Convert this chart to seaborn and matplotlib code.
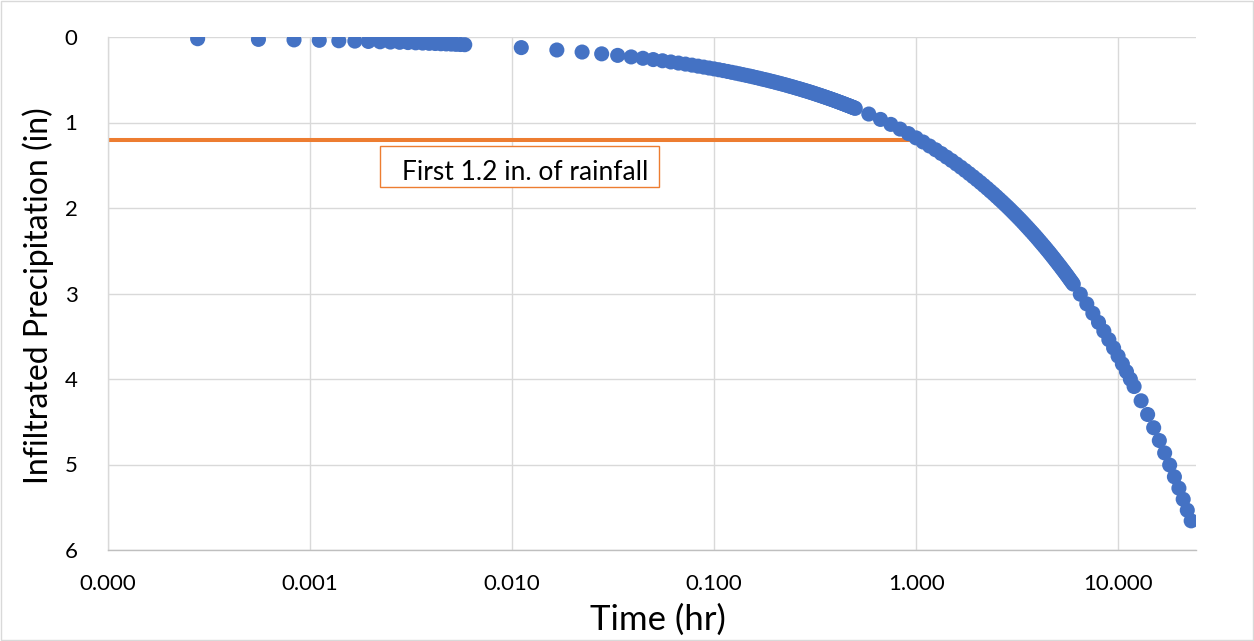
import numpy as np
import pandas as pd
import matplotlib
matplotlib.use("Agg")
import matplotlib.pyplot as plt
import seaborn as sns
from matplotlib.ticker import FixedLocator, FuncFormatter, NullLocator
from matplotlib.patches import Rectangle

# ---------------- data ----------------
# segment 1: 1-second steps
time_s_seg1 = [1, 2, 3, 4, 5, 6, 7, 8, 9, 10, 11, 12, 13, 14, 15, 16, 17, 18, 19, 20, 21]
infil_seg1 = [0.020, 0.028, 0.034, 0.039, 0.044, 0.048, 0.052, 0.056, 0.059, 0.062,
              0.065, 0.068, 0.071, 0.074, 0.076, 0.079, 0.081, 0.083, 0.086, 0.088, 0.090]

# segment 2: 20-second steps
time_s_seg2 = [40, 60, 80, 100, 120, 140, 160, 180, 200, 220, 240, 260, 280, 300, 320, 340,
               360, 380, 400, 420, 440, 460, 480, 500, 520, 540, 560, 580, 600, 620, 640, 660,
               680, 700, 720, 740, 760, 780, 800, 820, 840, 860, 880, 900, 920, 940, 960, 980,
               1000, 1020, 1040, 1060, 1080, 1100, 1120, 1140, 1160, 1180, 1200, 1220, 1240,
               1260, 1280, 1300, 1320, 1340, 1360, 1380, 1400, 1420, 1440, 1460, 1480, 1500,
               1520, 1540, 1560, 1580, 1600, 1620, 1640, 1660, 1680, 1700, 1720, 1740, 1760,
               1780, 1800]
infil_seg2 = [0.124, 0.152, 0.176, 0.197, 0.215, 0.233, 0.249, 0.264, 0.278, 0.292,
              0.305, 0.317, 0.329, 0.341, 0.352, 0.363, 0.373, 0.383, 0.393, 0.403,
              0.413, 0.422, 0.431, 0.440, 0.449, 0.457, 0.465, 0.474, 0.482, 0.490,
              0.498, 0.505, 0.513, 0.520, 0.528, 0.535, 0.542, 0.549, 0.556, 0.563,
              0.570, 0.577, 0.583, 0.590, 0.597, 0.603, 0.609, 0.616, 0.622, 0.628,
              0.634, 0.640, 0.646, 0.652, 0.658, 0.664, 0.670, 0.676, 0.681, 0.687,
              0.693, 0.698, 0.704, 0.709, 0.715, 0.720, 0.725, 0.731, 0.736, 0.741,
              0.746, 0.752, 0.757, 0.762, 0.767, 0.772, 0.777, 0.782, 0.787, 0.792,
              0.797, 0.801, 0.806, 0.811, 0.816, 0.820, 0.825, 0.830, 0.834]

# segment 3: 5-minute steps
time_min_seg3 = [35, 40, 45, 50, 55, 60, 65, 70, 75, 80, 85, 90, 95, 100, 105, 110, 115, 120,
                 125, 130, 135, 140, 145, 150, 155, 160, 165, 170, 175, 180, 185, 190, 195, 200,
                 205, 210, 215, 220, 225, 230, 235, 240, 245, 250, 255, 260, 265, 270, 275, 280,
                 285, 290, 295, 300, 305, 310, 315, 320, 325, 330, 335, 340, 345, 350, 355, 360]
infil_seg3 = [0.901, 0.964, 1.022, 1.077, 1.130, 1.180, 1.228, 1.275, 1.319, 1.363,
              1.405, 1.445, 1.485, 1.523, 1.561, 1.598, 1.634, 1.669, 1.703, 1.737,
              1.770, 1.803, 1.834, 1.866, 1.897, 1.927, 1.957, 1.986, 2.015, 2.044,
              2.072, 2.100, 2.127, 2.154, 2.181, 2.208, 2.234, 2.260, 2.285, 2.310,
              2.335, 2.360, 2.385, 2.409, 2.433, 2.456, 2.480, 2.503, 2.526, 2.549,
              2.572, 2.594, 2.617, 2.639, 2.661, 2.682, 2.704, 2.725, 2.746, 2.767,
              2.788, 2.809, 2.830, 2.850, 2.870, 2.890]

# segment 4: half-hour steps
time_hr_seg4 = [6.5, 7.0, 7.5, 8.0, 8.5, 9.0, 9.5, 10.0, 10.5, 11.0, 11.5, 12.0]
infil_seg4 = [3.008, 3.122, 3.232, 3.338, 3.440, 3.540, 3.637, 3.732, 3.824, 3.914, 4.002, 4.088]

# segment 5: 1-hour steps
time_hr_seg5 = [13, 14, 15, 16, 17, 18, 19, 20, 21, 22, 23]
infil_seg5 = [4.255, 4.415, 4.570, 4.720, 4.865, 5.006, 5.144, 5.277, 5.407, 5.535, 5.659]

# reference line: first 1.2 in. of rainfall
line_time_hr = [0.0001, 1.0]
line_infil = [1.2, 1.2]

x_ticks = [0.0001, 0.001, 0.01, 0.1, 1.0, 10.0]
y_ticks = [0, 1, 2, 3, 4, 5, 6]
annotation = "First 1.2 in. of rainfall"

# ---------------- build frame ----------------
time_hr = ([t / 3600 for t in time_s_seg1] + [t / 3600 for t in time_s_seg2]
           + [t / 60 for t in time_min_seg3] + list(time_hr_seg4) + list(time_hr_seg5))
infil = infil_seg1 + infil_seg2 + infil_seg3 + infil_seg4 + infil_seg5
df = pd.DataFrame({"Time (hr)": time_hr, "Infiltrated Precipitation (in)": infil})
line_df = pd.DataFrame({"t": line_time_hr, "f": line_infil})

# ---------------- style ----------------
sns.set_theme(style="white")
plt.rcParams["font.family"] = ["Lato", "DejaVu Sans"]

BLUE = "#4472C4"
ORANGE = "#ED7D31"
GRID = "#D9D9D9"

fig = plt.figure(figsize=(12.54, 6.41), dpi=100)
ax = fig.add_axes([108 / 1254, 1 - 550 / 641, (1196 - 108) / 1254, (550 - 37) / 641])

sns.lineplot(data=line_df, x="t", y="f", ax=ax, color=ORANGE, linewidth=2.9, zorder=2)
sns.scatterplot(data=df, x="Time (hr)", y="Infiltrated Precipitation (in)", ax=ax,
                color=BLUE, s=118, linewidth=0, edgecolor="none", zorder=3)

ax.set_xscale("log")
ax.set_xlim(0.0001, 24.3)
ax.set_ylim(6, 0)

ax.xaxis.set_major_locator(FixedLocator(x_ticks))
ax.xaxis.set_minor_locator(NullLocator())
ax.xaxis.set_major_formatter(FuncFormatter(lambda v, p: f"{v:.3f}"))
ax.yaxis.set_major_locator(FixedLocator(y_ticks))
ax.yaxis.set_major_formatter(FuncFormatter(lambda v, p: f"{int(round(v))}"))

ax.grid(True, which="major", color=GRID, linewidth=1.0, zorder=0)
ax.set_axisbelow(True)
for side in ["top", "right"]:
    ax.spines[side].set_visible(False)
ax.spines["left"].set_color(GRID)
ax.spines["left"].set_linewidth(1.0)
ax.spines["bottom"].set_color("#BFBFBF")
ax.spines["bottom"].set_linewidth(1.0)

ax.tick_params(axis="both", length=0, labelsize=16, colors="#000000")
ax.tick_params(axis="x", pad=17)
ax.tick_params(axis="y", pad=22)

ax.set_xlabel("Time (hr)", fontsize=25, color="#000000")
ax.set_ylabel("Infiltrated Precipitation (in)", fontsize=23, color="#000000")
ax.xaxis.set_label_coords((658 - 108) / 1088, -(620 - 550) / 513)
ax.xaxis.label.set_va("center")
ax.yaxis.set_label_coords(-(108 - 38) / 1088, 1 - (296 - 37) / 513)
ax.yaxis.label.set_va("center")

# annotation box
bx0 = (380 - 108) / 1088
bx1 = (659 - 108) / 1088
by0 = 1 - (187 - 37) / 513
by1 = 1 - (146 - 37) / 513
ax.add_patch(Rectangle((bx0, by0), bx1 - bx0, by1 - by0, transform=ax.transAxes,
                       fill=True, facecolor="white", edgecolor=ORANGE, linewidth=1.0, zorder=4))
ax.text((402 - 108) / 1088, (by0 + by1) / 2 - 0.012, annotation, transform=ax.transAxes,
        ha="left", va="center", fontsize=19, color="#000000", zorder=5)

# chart border
fig.patches.append(Rectangle((0.0008, 0.0015), 0.9984, 0.997, transform=fig.transFigure,
                             fill=False, edgecolor=GRID, linewidth=1.0))

fig.savefig("out.png", dpi=100, facecolor="white")
